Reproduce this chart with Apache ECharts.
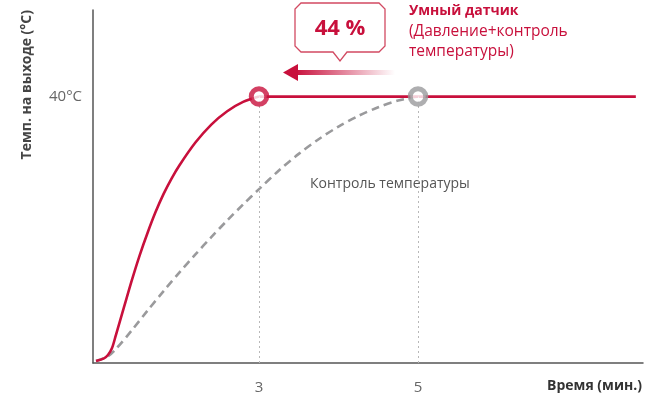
<!DOCTYPE html>
<html>
<head>
<meta charset="utf-8">
<script src="https://cdn.jsdelivr.net/npm/echarts@6/dist/echarts.min.js"></script>
<style>
  html, body { margin: 0; padding: 0; background: #fff; }
  #chart { width: 659px; height: 398px; }
</style>
</head>
<body>
<div id="chart"></div>
<script>
// Smart sensor (pressure + temperature control): outlet temperature while heating up
const smartTime = [0.95, 1.05, 1.1, 1.15, 1.2, 1.3, 1.4, 1.5, 1.6, 1.7, 1.8, 1.9, 2.0, 2.2, 2.4, 2.6, 2.8, 3.0];
const smartTemp = [0.3, 0.7, 1.2, 2.2, 4.2, 8.3, 12.4, 16.2, 19.6, 22.7, 25.4, 27.7, 29.7, 33.1, 35.8, 37.8, 39.2, 40.0];
// Smart sensor: holding the target temperature
const smartHoldTime = [3.0, 7.74];
const smartHoldTemp = [40.0, 40.0];

// Temperature control only
const baseTime = [0.95, 1.1, 1.2, 1.4, 1.6, 1.8, 2.0, 2.2, 2.4, 2.6, 2.8, 3.0, 3.25, 3.5, 3.75, 4.0, 4.25, 4.5, 4.75, 5.0];
const baseTemp = [0.3, 1.0, 2.1, 4.9, 7.9, 10.8, 13.6, 16.3, 18.9, 21.4, 23.8, 26.1, 28.9, 31.4, 33.6, 35.5, 37.1, 38.4, 39.4, 40.0];

// Moments when the target temperature is reached
const reachTime = [3, 5];
const targetTemp = 40;

const xTicks = [3, 5];
const yTicks = [40];

const RED = '#c8103c';
const GREY = '#9a9a9c';

const pairs = (xs, ys) => xs.map((x, i) => [x, ys[i]]);

const chart = echarts.init(document.getElementById('chart'), null, { renderer: 'canvas' });

chart.setOption({
  animation: false,
  backgroundColor: '#fff',
  grid: { left: 93, right: 16, top: 10, bottom: 35 },
  xAxis: {
    type: 'value',
    min: 0.912,
    max: 7.83,
    splitLine: { show: false },
    axisLine: { show: true, onZero: false, lineStyle: { color: '#555', width: 1.5 } },
    axisTick: { show: false },
    axisLabel: {
      customValues: xTicks,
      color: '#666',
      fontSize: 15,
      fontFamily: 'Open Sans',
      margin: 17
    }
  },
  yAxis: {
    type: 'value',
    min: 0,
    max: 53,
    splitLine: { show: false },
    axisLine: { show: true, onZero: false, lineStyle: { color: '#555', width: 1.5 } },
    axisTick: { show: false },
    axisLabel: {
      customValues: yTicks,
      formatter: v => v + '°C',
      color: '#666',
      fontSize: 15,
      fontFamily: 'Open Sans',
      margin: 11
    }
  },
  series: [
    {
      name: 'Контроль температуры',
      type: 'line',
      data: pairs(baseTime, baseTemp),
      smooth: 0.3,
      symbol: 'none',
      z: 2,
      lineStyle: { color: GREY, width: 2.6, type: [8, 5] },
      markLine: {
        silent: true,
        symbol: 'none',
        label: { show: false },
        lineStyle: { color: '#b8b8b8', width: 1, type: [2, 3] },
        data: reachTime.map(t => [{ coord: [t, 0] }, { coord: [t, targetTemp] }])
      }
    },
    {
      name: 'Умный датчик',
      type: 'line',
      data: pairs(smartTime, smartTemp),
      smooth: 0.3,
      symbol: 'none',
      z: 3,
      lineStyle: { color: RED, width: 2.6 }
    },
    {
      name: 'Умный датчик (40°C)',
      type: 'line',
      data: pairs(smartHoldTime, smartHoldTemp),
      symbol: 'none',
      z: 3,
      lineStyle: { color: RED, width: 2.6 }
    },
    {
      type: 'scatter',
      data: [[reachTime[0], targetTemp]],
      symbol: 'circle',
      symbolSize: 15.5,
      z: 5,
      itemStyle: { color: '#fff', borderColor: RED, borderWidth: 5 }
    },
    {
      type: 'scatter',
      data: [[reachTime[1], targetTemp]],
      symbol: 'circle',
      symbolSize: 15.5,
      z: 5,
      itemStyle: { color: '#fff', borderColor: GREY, borderWidth: 5 }
    }
  ],
  graphic: [
    // axis titles
    {
      type: 'text',
      x: 20, y: 10,
      rotation: Math.PI / 2,
      style: {
        text: 'Темп. на выходе (°C)',
        fill: '#444',
        font: 'bold 14px "Open Sans"',
        align: 'right',
        verticalAlign: 'top'
      }
    },
    {
      type: 'text',
      x: 642, y: 386,
      style: {
        text: 'Время (мин.)',
        fill: '#333',
        font: 'bold 14px "Open Sans"',
        align: 'right',
        verticalAlign: 'middle'
      }
    },
    // series captions
    {
      type: 'text',
      x: 310, y: 184,
      style: {
        text: 'Контроль температуры',
        fill: '#555',
        font: '14px "Open Sans"',
        align: 'left',
        verticalAlign: 'middle'
      }
    },
    {
      type: 'text',
      x: 409, y: 11,
      style: {
        text: 'Умный датчик',
        fill: RED,
        font: 'bold 14px "Open Sans"',
        align: 'left',
        verticalAlign: 'middle'
      }
    },
    {
      type: 'text',
      x: 409, y: 22,
      style: {
        text: '(Давление+контроль\nтемпературы)',
        fill: RED,
        font: '15.5px "Open Sans"',
        lineHeight: 20,
        align: 'left',
        verticalAlign: 'top'
      }
    },
    // time saving callout
    {
      type: 'polygon',
      shape: {
        points: [[301, 3], [379, 3], [385, 9], [385, 46], [379, 52], [347, 52], [340, 61], [333, 52], [301, 52], [295, 46], [295, 9]]
      },
      style: { fill: '#fff', stroke: '#d24a62', lineWidth: 1.3 }
    },
    {
      type: 'text',
      x: 340, y: 29,
      style: {
        text: '44 %',
        fill: RED,
        font: 'bold 22px "Open Sans"',
        align: 'center',
        verticalAlign: 'middle'
      }
    },
    // arrow pointing to the earlier arrival
    {
      type: 'rect',
      shape: { x: 295, y: 70, width: 100, height: 5 },
      style: {
        fill: new echarts.graphic.LinearGradient(0, 0, 1, 0, [
          { offset: 0, color: RED },
          { offset: 1, color: 'rgba(200,16,60,0)' }
        ])
      }
    },
    {
      type: 'polygon',
      shape: { points: [[283, 72.5], [298, 64], [298, 81]] },
      style: { fill: RED }
    }
  ]
});
</script>
</body>
</html>
